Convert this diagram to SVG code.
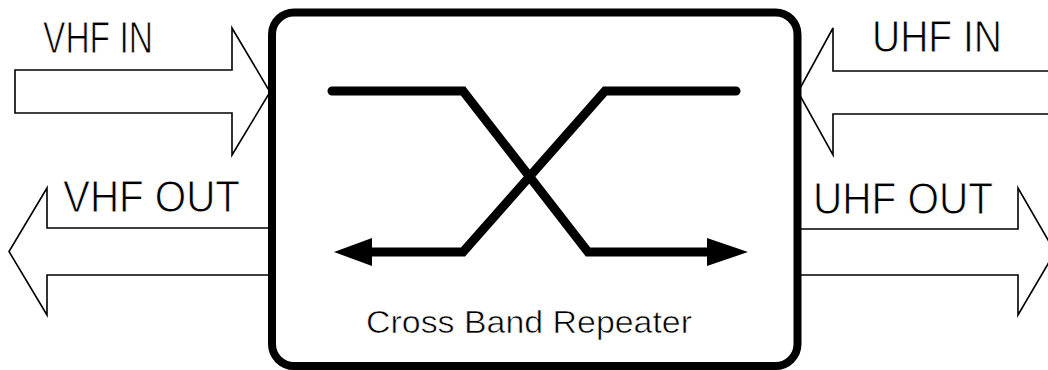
<svg xmlns="http://www.w3.org/2000/svg" width="1048" height="370" viewBox="0 0 1048 370">
<style>
.port{fill:#fff;stroke:#000;stroke-width:1.6;stroke-linejoin:miter}
.lbl{font-family:"Liberation Sans",Arial,sans-serif;font-size:44px;fill:#000;stroke:#fff;stroke-width:0.9px}
.cap{font-family:"Liberation Sans",Arial,sans-serif;font-size:32px;fill:#000;stroke:#fff;stroke-width:0.6px}
.sig{fill:none;stroke:#000;stroke-width:9;stroke-linecap:round;stroke-linejoin:miter}
.head{fill:#000;stroke:none}
</style>
<rect width="1048" height="370" fill="#fff"/>
<g id="vhf-in">
<path class="port" d="M15,70 H232 V28 L270,92 L232,155 V113 H15 Z"/>
<text class="lbl" x="43" y="53" textLength="110" lengthAdjust="spacingAndGlyphs">VHF IN</text>
</g>
<g id="vhf-out">
<path class="port" d="M268,228 H47 V188 L9,251.5 L47,315 V275 H268"/>
<text class="lbl" x="63" y="212" textLength="177" lengthAdjust="spacingAndGlyphs">VHF OUT</text>
</g>
<g id="uhf-in">
<path class="port" d="M1052,71 H833 V28 L798,92 L833,155 V114 H1052"/>
<text class="lbl" x="872" y="52" textLength="130" lengthAdjust="spacingAndGlyphs">UHF IN</text>
</g>
<g id="uhf-out">
<path class="port" d="M800,229 H1018 V188 L1055,252 L1018,315 V275 H800"/>
<text class="lbl" x="813" y="214" textLength="180" lengthAdjust="spacingAndGlyphs">UHF OUT</text>
</g>
<g id="repeater">
<rect x="272" y="12.5" width="525.5" height="353.5" rx="22" ry="22" fill="none" stroke="#000" stroke-width="8"/>
<text class="cap" x="366" y="333" textLength="326" lengthAdjust="spacingAndGlyphs">Cross Band Repeater</text>
</g>
<g id="connectors">
<path class="sig" d="M332,91 H463 L588,252 H712"/>
<polygon class="head" points="748,252 707,238 707,266"/>
<path class="sig" d="M736,91 H605 L463,252 H370"/>
<polygon class="head" points="334,252 372,238 372,266"/>
</g>
</svg>
